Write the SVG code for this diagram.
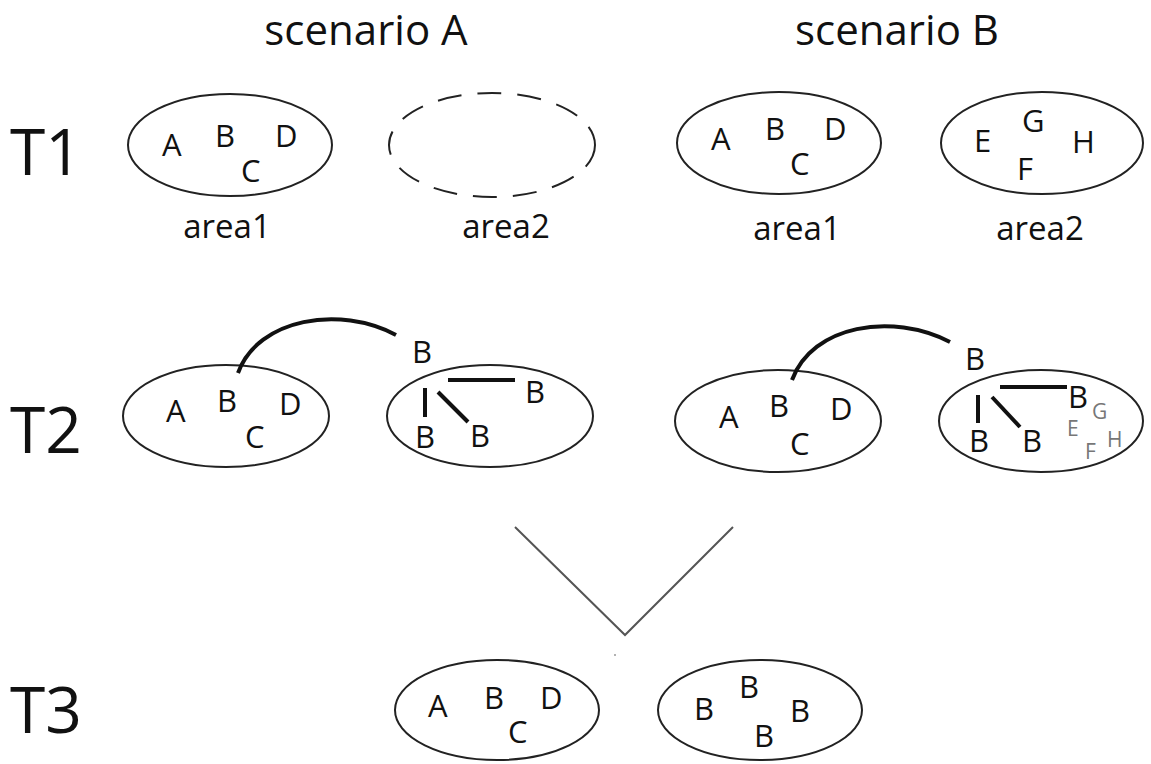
<svg xmlns="http://www.w3.org/2000/svg" width="1151" height="764" viewBox="0 0 1151 764">
<style>
text{font-family:"Open Sans","Noto Sans",sans-serif;fill:#111}
.title{font-size:42px}
.t{font-size:64px}
.l{font-size:31px}
.lab{font-size:33px}
.g{font-size:21px;fill:#777}
.area{fill:none;stroke:#222;stroke-width:2}
.dash{stroke-dasharray:24 16}
.edge{fill:none;stroke:#111;stroke-width:4;stroke-linecap:butt}
.v{fill:none;stroke:#555;stroke-width:2}
</style>
<rect width="1151" height="764" fill="#fff"/>
<g id="titles">
<text class="title" x="366" y="45" text-anchor="middle">scenario A</text>
<text class="title" x="897" y="45" text-anchor="middle">scenario B</text>
<text class="t" x="10" y="175">T1</text>
<text class="t" x="10" y="453">T2</text>
<text class="t" x="10" y="733">T3</text>
</g>
<g id="A-T1-area1">
<ellipse class="area" cx="230" cy="145" rx="102" ry="51"/>
<text class="l" x="162" y="156">A</text>
<text class="l" x="215" y="147">B</text>
<text class="l" x="275" y="147">D</text>
<text class="l" x="241" y="182">C</text>
<text class="lab" x="227" y="238" text-anchor="middle">area1</text>
</g>
<g id="A-T1-area2">
<ellipse class="area dash" cx="492" cy="145" rx="103" ry="52"/>
<text class="lab" x="506" y="238" text-anchor="middle">area2</text>
</g>
<g id="B-T1-area1">
<ellipse class="area" cx="779" cy="143" rx="102" ry="51"/>
<text class="l" x="711" y="150">A</text>
<text class="l" x="765" y="140">B</text>
<text class="l" x="824" y="140">D</text>
<text class="l" x="790" y="175">C</text>
<text class="lab" x="797" y="240" text-anchor="middle">area1</text>
</g>
<g id="B-T1-area2">
<ellipse class="area" cx="1042" cy="143" rx="101" ry="51"/>
<text class="l" x="974" y="152">E</text>
<text class="l" x="1022" y="132">G</text>
<text class="l" x="1072" y="153">H</text>
<text class="l" x="1017" y="180">F</text>
<text class="lab" x="1040" y="240" text-anchor="middle">area2</text>
</g>
<g id="A-T2-area1">
<ellipse class="area" cx="226" cy="416" rx="103" ry="51"/>
<text class="l" x="166" y="422">A</text>
<text class="l" x="217" y="412">B</text>
<text class="l" x="279" y="415">D</text>
<text class="l" x="245" y="448">C</text>
</g>
<g id="A-T2-area2">
<ellipse class="area" cx="490" cy="416" rx="103" ry="51"/>
<text class="l" x="412" y="363">B</text>
<text class="l" x="525" y="403">B</text>
<text class="l" x="415" y="448">B</text>
<text class="l" x="470" y="447">B</text>
</g>
<g id="B-T2-area1">
<ellipse class="area" cx="778" cy="421" rx="103" ry="51"/>
<text class="l" x="719" y="428">A</text>
<text class="l" x="769" y="417">B</text>
<text class="l" x="830" y="420">D</text>
<text class="l" x="790" y="455">C</text>
</g>
<g id="B-T2-area2">
<ellipse class="area" cx="1041" cy="421" rx="102" ry="51"/>
<text class="l" x="965" y="370">B</text>
<text class="l" x="1068" y="408">B</text>
<text class="l" x="969" y="452">B</text>
<text class="l" x="1022" y="452">B</text>
<text class="g" x="1092" y="419">G</text>
<text class="g" x="1067" y="436">E</text>
<text class="g" x="1107" y="447">H</text>
<text class="g" x="1085" y="459">F</text>
</g>
<g id="T3-area1">
<ellipse class="area" cx="497" cy="710" rx="102" ry="50"/>
<text class="l" x="428" y="717">A</text>
<text class="l" x="484" y="709">B</text>
<text class="l" x="540" y="709">D</text>
<text class="l" x="508" y="743">C</text>
</g>
<g id="T3-area2">
<ellipse class="area" cx="760" cy="710" rx="102" ry="50"/>
<text class="l" x="694" y="720">B</text>
<text class="l" x="739" y="698">B</text>
<text class="l" x="790" y="722">B</text>
<text class="l" x="754" y="747">B</text>
</g>
<g id="connectors">
<path class="edge" d="M238,373 C258,318 340,305 396,335"/>
<path class="edge" d="M792,380 C812,325 892,312 950,342"/>
<line class="edge" x1="448" y1="380" x2="515" y2="380"/>
<line class="edge" x1="425" y1="388" x2="425" y2="417"/>
<line class="edge" x1="438" y1="392" x2="468" y2="422"/>
<line class="edge" x1="1000" y1="387" x2="1067" y2="387"/>
<line class="edge" x1="978" y1="395" x2="978" y2="423"/>
<line class="edge" x1="992" y1="397" x2="1020" y2="427"/>
<polyline class="v" points="515,527 625,635 733,527"/>
<circle cx="615" cy="655" r="1" fill="#999"/>
</g>
</svg>
